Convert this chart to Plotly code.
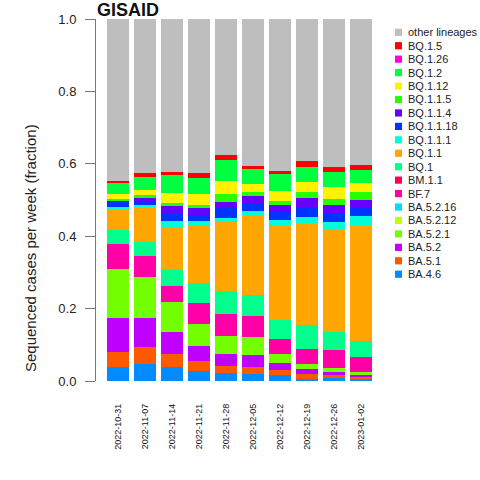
import plotly.graph_objects as go

weeks = ["2022-10-31", "2022-11-07", "2022-11-14", "2022-11-21", "2022-11-28",
         "2022-12-05", "2022-12-12", "2022-12-19", "2022-12-26", "2023-01-02"]

# weekly fractions, bottom of the stack first
ba_4_6 = [0.038, 0.047, 0.038, 0.027, 0.021, 0.019, 0.016, 0.005, 0.007, 0.005]
ba_5_1 = [0.042, 0.046, 0.037, 0.027, 0.020, 0.019, 0.014, 0.013, 0.012, 0.008]
ba_5_2 = [0.094, 0.081, 0.060, 0.043, 0.034, 0.033, 0.019, 0.014, 0.005, 0.003]
ba_5_2_1 = [0.135, 0.112, 0.083, 0.060, 0.049, 0.050, 0.026, 0.015, 0.011, 0.008]
ba_5_2_12 = [0.0, 0.0, 0.0, 0.0, 0.0, 0.0, 0.0, 0.0, 0.0, 0.0]
ba_5_2_16 = [0.0, 0.0, 0.0, 0.0, 0.0, 0.0, 0.0, 0.0, 0.0, 0.0]
bf_7 = [0.069, 0.059, 0.044, 0.058, 0.061, 0.059, 0.040, 0.041, 0.051, 0.041]
bm_1_1 = [0.0, 0.0, 0.0, 0.0, 0.0, 0.0, 0.0, 0.0, 0.0, 0.0]
bq_1 = [0.039, 0.039, 0.045, 0.055, 0.063, 0.057, 0.054, 0.066, 0.049, 0.045]
bq_1_1 = [0.057, 0.094, 0.118, 0.158, 0.191, 0.221, 0.261, 0.280, 0.284, 0.320]
bq_1_1_1 = [0.006, 0.007, 0.016, 0.013, 0.011, 0.011, 0.015, 0.018, 0.020, 0.026]
bq_1_1_18 = [0.016, 0.012, 0.020, 0.017, 0.028, 0.020, 0.022, 0.026, 0.022, 0.022]
bq_1_1_4 = [0.0, 0.008, 0.022, 0.020, 0.016, 0.022, 0.018, 0.028, 0.024, 0.022]
bq_1_1_5 = [0.006, 0.008, 0.008, 0.007, 0.023, 0.011, 0.011, 0.016, 0.017, 0.022]
bq_1_12 = [0.014, 0.014, 0.028, 0.032, 0.035, 0.022, 0.028, 0.028, 0.033, 0.024]
bq_1_2 = [0.030, 0.036, 0.049, 0.044, 0.058, 0.041, 0.048, 0.040, 0.042, 0.037]
bq_1_26 = [0.0, 0.0, 0.0, 0.0, 0.0, 0.0, 0.0, 0.0, 0.0, 0.0]
bq_1_5 = [0.006, 0.011, 0.009, 0.013, 0.013, 0.009, 0.007, 0.017, 0.013, 0.013]
other = [0.448, 0.426, 0.423, 0.426, 0.377, 0.406, 0.421, 0.393, 0.410, 0.404]

names = ["BA.4.6", "BA.5.1", "BA.5.2", "BA.5.2.1", "BA.5.2.12", "BA.5.2.16", "BF.7",
         "BM.1.1", "BQ.1", "BQ.1.1", "BQ.1.1.1", "BQ.1.1.18", "BQ.1.1.4", "BQ.1.1.5",
         "BQ.1.12", "BQ.1.2", "BQ.1.26", "BQ.1.5", "other lineages"]
series = [ba_4_6, ba_5_1, ba_5_2, ba_5_2_1, ba_5_2_12, ba_5_2_16, bf_7, bm_1_1, bq_1,
          bq_1_1, bq_1_1_1, bq_1_1_18, bq_1_1_4, bq_1_1_5, bq_1_12, bq_1_2, bq_1_26,
          bq_1_5, other]
colors = ["#008CFF", "#FF5900", "#BF00FF", "#73FF00", "#BFFF00", "#00D9FF", "#FF00A6",
          "#FF0059", "#00FF8C", "#FFA600", "#00FFD9", "#0033FF", "#6600FF", "#26FF00",
          "#FFF200", "#00FF40", "#FF00E6", "#FF0000", "#BEBEBE"]

FONT = "Liberation Sans, Arial, sans-serif"

# plot area in page pixels (as measured on the reference)
X0, X1 = 96, 383
Y0, Y1 = 381, 19


def px_x(px):
    return (px - X0) / (X1 - X0)


def px_y(py):
    return (Y0 - py) / (Y0 - Y1)


fig = go.Figure()

for name, vals, col in zip(names, series, colors):
    fig.add_trace(go.Bar(x=weeks, y=vals, name=name, marker_color=col,
                         marker_line_width=0))

# hand made legend, R style: tight rows, top entry = top of the stack
shapes = []
annotations = []
for i, (name, col) in enumerate(zip(names[::-1], colors[::-1])):
    cy = 32.3 + i * 13.44
    shapes.append(dict(type="rect", xref="paper", yref="paper",
                       x0=px_x(395), x1=px_x(402), y0=px_y(cy + 3.6), y1=px_y(cy - 3.6),
                       fillcolor=col, line_width=0))
    annotations.append(dict(text=name, xref="paper", yref="paper", x=px_x(406),
                            y=px_y(cy), xanchor="left", yanchor="middle",
                            showarrow=False, font=dict(size=11, color="#222")))

annotations.append(dict(text="<b>GISAID</b>", xref="paper", yref="paper",
                        x=px_x(95), y=px_y(10.5), xanchor="left", yanchor="middle",
                        showarrow=False, font=dict(size=18, color="#111")))
annotations.append(dict(text="Sequenced cases per week (fraction)", xref="paper",
                        yref="paper", x=px_x(30), y=px_y(248), textangle=-90,
                        xanchor="center", yanchor="middle", showarrow=False,
                        font=dict(size=15, color="#222")))

fig.update_layout(
    barmode="stack",
    bargap=0.185,
    width=480,
    height=480,
    margin=dict(l=X0, r=480 - X1, t=Y1, b=480 - Y0),
    plot_bgcolor="white",
    paper_bgcolor="white",
    font=dict(family=FONT, color="#222"),
    showlegend=False,
    shapes=shapes,
    annotations=annotations,
    xaxis=dict(type="category", range=[-0.807, 9.807], showgrid=False, zeroline=False,
               showline=False, ticks="", tickangle=-90, ticklabelstandoff=20,
               tickfont=dict(size=9, color="#111")),
    yaxis=dict(range=[0, 1], tickvals=[0, 0.2, 0.4, 0.6, 0.8, 1.0], tickformat=".1f",
               showgrid=False, zeroline=False, showline=True, linecolor="#777",
               linewidth=1, ticks="outside", ticklen=10, tickcolor="#777",
               ticklabelstandoff=6, tickfont=dict(size=13, color="#222")),
)

# drop the browser's default 8px body margin so the figure fills the window exactly
fig.write_html("out.html",
               config={"displayModeBar": False},
               post_script="document.body.style.margin='0';"
                           "document.body.style.overflow='hidden';")
